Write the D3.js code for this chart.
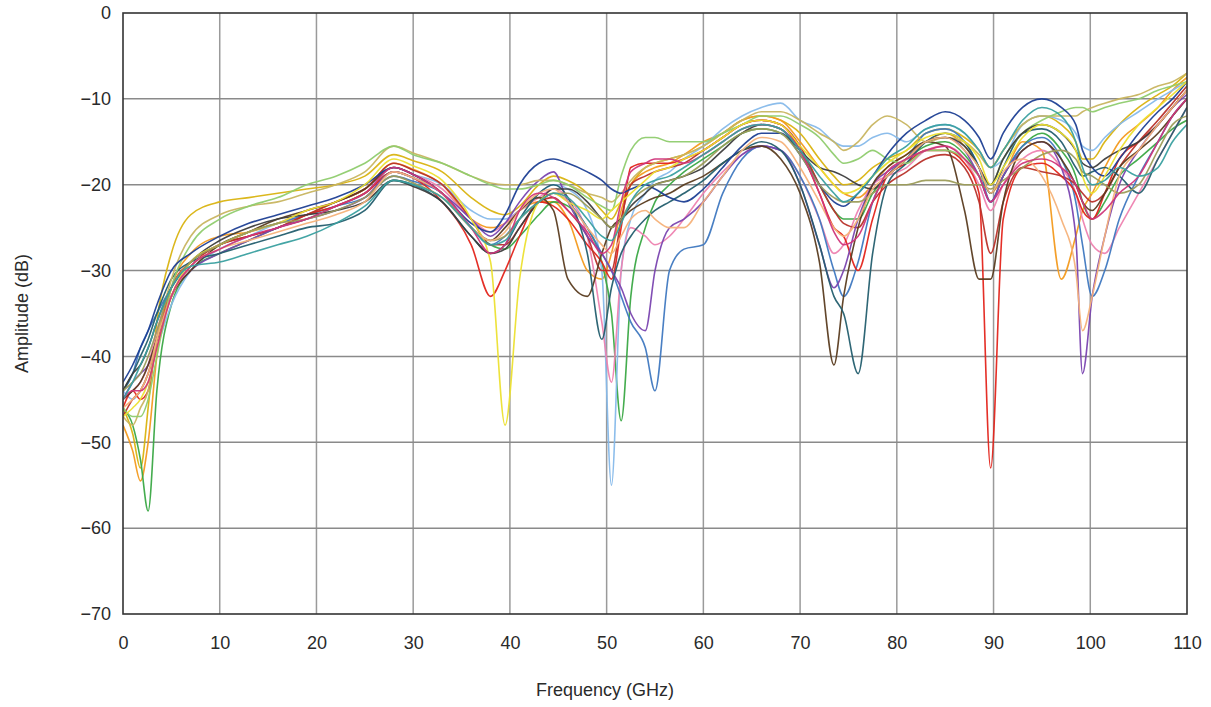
<!DOCTYPE html>
<html>
<head>
<meta charset="utf-8">
<script src="https://cdn.jsdelivr.net/npm/d3@7"></script>
<style>
  html, body { margin: 0; padding: 0; background: #fff; }
  svg { display: block; }
  text { font-family: "Liberation Sans", Arial, sans-serif; fill: #2a2a2a; }
</style>
</head>
<body>
<svg id="chart" width="1211" height="707"></svg>
<script>
// Frequency grid (GHz) shared by all traces
const freqs = [0,1,1.8,2.6,3.5,5,7,10,13,16,19,22,25,28,30,33,36,38,39.5,41,43,44.5,46,48,49.5,50.5,51.5,52.5,54,55,56.5,58,60,62,64,66,68,70,72,73.5,74.5,76,77.5,79,81,83,85,87,88.5,89.7,91,93,95,97,98.5,99.2,100.2,101.5,103,105,107,108.5,110];

const xTicks = [0,10,20,30,40,50,60,70,80,90,100,110];
const yTicks = [0,-10,-20,-30,-40,-50,-60,-70];

const seriesNames = ["S1","S2","S3","S4","S5","S6","S7","S8","S9","S10","S11","S12","S13","S14","S15","S16","S17","S18","S19","S20"];
const seriesColors = ["#d9b310","#f39a1e","#3aa845","#86b9ea","#ee82b0","#3f78c0","#e3241b","#b8322a","#7a44b0","#5a3c20","#235e6e","#c8b560","#8fcc6e","#1d3f94","#3d3d3d","#ece030","#9c9c5a","#f5b27a","#d0357a","#3aa0a0"];

const s1 = [-46,-49,-53,-46,-36,-28,-23.5,-22, -21.5,-21,-20.5,-20,-19,-16.5,-17.2, -18.5,-21.5,-23,-23.5,-22.5,-20,-19,-19.5,-21, -23,-24,-22,-20,-18,-17.5,-17,-16.5,-15.5, -14,-12.5,-12,-12.5,-14,-17,-19,-20,-19.5,-18, -17,-16,-14,-13.5,-14.5,-16,-18,-16,-13,-12, -13,-15,-17,-17,-15,-13,-11,-9.5,-8.5,-7];
const s2 = [-48,-51,-54.5,-50,-40,-32,-28,-26, -25.5,-24.5,-23.5,-22,-20.5,-17.5,-18.2, -20,-24,-25,-24.5,-23,-22,-22,-24,-30, -31,-28,-23,-20,-18.5,-18,-17.5,-16.5,-15, -14,-12.5,-12,-12.5,-15,-18,-20,-21,-21.5,-20, -18,-16.5,-15,-14,-15.5,-18,-21,-19,-15,-16, -31,-26,-23,-21,-18,-15,-13,-11,-9,-7.5];
const s3 = [-46,-48,-52,-58,-44,-34,-30,-28, -26.5,-25,-24,-22.5,-21,-18.5,-19.2, -21,-25,-27,-27.5,-26,-23.5,-22,-22.5,-25, -29,-35,-47.5,-33,-25,-22,-20,-18.5,-17, -15.5,-14,-13.5,-14,-16,-20,-23,-24,-24,-21, -19,-17,-15.5,-15,-16.5,-19,-22,-19,-15.5,-14, -16,-19,-22,-24,-22,-19,-17,-15,-13.5,-12.5];
const s4 = [-44,-45,-44,-42,-39,-34,-30,-27.5, -26,-24.5,-23.5,-22.5,-21,-18,-18.8, -20,-23,-24,-24,-23,-21,-20,-20.5,-23, -30,-55,-30,-24,-21,-19.5,-18.5,-17,-15.5, -13.5,-12,-11,-10.5,-12.5,-13.5,-15,-15.5,-15.5,-14.5, -14,-15,-13.5,-13,-14,-16,-18,-17,-13,-12, -12.5,-14,-15.5,-16,-14.5,-13,-11.5,-10,-9,-8];
const s5 = [-45,-44,-43,-41,-37,-32,-29,-27, -25.5,-24.5,-23,-22,-20.5,-18,-18.8, -20.5,-24,-25.5,-24.5,-23,-21.5,-20.5,-21.5,-26, -36,-43,-30,-25,-26,-27,-26,-24,-21, -18.5,-16.5,-15.5,-16,-19,-24,-28,-27,-23,-20, -19,-18,-16,-15.5,-17,-20,-23,-20,-17,-16, -18,-21,-24,-27,-28,-25,-21,-17,-14,-11];
const s6 = [-44,-42,-39,-37,-35,-32,-29,-27, -25.5,-24.5,-23.5,-22.5,-21.5,-19,-19.6, -21,-25,-27,-26,-24,-22,-21,-22,-25, -28,-30,-33,-36,-39,-44,-30,-27.5,-27, -21,-17,-15.5,-16,-19,-24,-30,-33,-29,-22, -19,-17,-14,-13.5,-15,-18,-22,-19,-15.5,-14.5, -17,-22,-27,-33,-30,-24,-19,-15,-12,-10];
const s7 = [-46,-44,-45,-44,-38,-32,-29,-27, -26,-25,-23.5,-22.5,-21,-18.5,-19.2, -22,-27,-33,-30,-26,-22,-22.5,-24,-27, -29,-31,-25,-18,-17.5,-17.5,-17.5,-17,-16, -14.5,-13,-12.5,-13,-16,-21,-25,-26,-30,-24, -19,-17.5,-16,-16,-17.5,-21,-53,-24,-18,-17.5, -19,-21,-23,-24,-21,-17,-15,-13,-11,-9];
const s8 = [-47,-45,-44,-42,-38,-33,-29.5,-27, -26,-25,-23.5,-22,-20.5,-17.5,-18.3, -20,-24,-27,-27,-25,-22,-21.5,-23,-26, -30,-30,-24,-20,-19,-18.5,-18,-17.5,-16, -14.5,-13,-12.5,-13,-15.5,-20,-23,-24.5,-25,-22, -20,-18.5,-17,-16.5,-18,-22,-28,-22,-18,-18.5, -19,-20,-21,-22,-21,-18,-15,-12.5,-10.5,-8.5];
const s9 = [-45,-43,-42,-41,-38,-33,-30,-28, -26.5,-25,-24,-23,-21.5,-18.5,-19.2, -21,-24,-26,-24.5,-22,-19.5,-18.5,-22,-26, -28,-30,-32,-35,-37,-30,-25,-24,-22, -19,-16.5,-15.5,-16,-20,-27,-32,-30,-24,-20, -18.5,-17,-15,-14.5,-16,-19,-22,-19,-16,-15, -18,-26,-42,-33,-26,-20,-16,-13,-11,-9.5];
const s10 = [-45,-44,-43,-41,-38,-33,-30,-27, -25.5,-24,-23,-22,-20.5,-18,-18.8, -21,-25,-26.5,-25,-23,-21.5,-23,-31,-33, -28,-25,-24,-23,-22,-21.5,-21,-20,-19, -17.5,-16,-15.5,-17,-21,-29,-41,-33,-25,-20, -18,-16.5,-15,-15.5,-23,-31,-31,-22,-16,-15, -17,-20,-22,-23,-21,-18,-16,-14,-12,-10];
const s11 = [-44,-42,-40,-38,-35,-31,-29,-28, -27,-26,-25,-24.5,-23,-19.5,-20, -22,-26,-28,-27,-24,-21,-20,-21.5,-28, -38,-32,-28,-26,-24,-23,-22,-21,-19.5, -17.5,-16,-15,-16,-20,-27,-33,-35,-42,-28, -20,-17.5,-15,-14,-15,-18,-21,-18,-14,-13.5, -15,-18,-19,-18.5,-18,-19,-21,-17,-14,-11];
const s12 = [-47,-48,-46,-44,-38,-31,-26,-23.5, -22.5,-22,-21,-20,-18.5,-15.5,-16.3, -17.5,-19,-19.8,-20,-20,-19.5,-19.5,-20,-21, -21.5,-22,-21,-19.5,-18,-17.5,-17,-16.5,-15.5, -14,-12.5,-11.5,-11.5,-12.5,-14,-15,-16,-15,-13, -12,-13,-15,-14.5,-15,-16.5,-18,-16,-13,-12, -12,-12,-11.5,-11,-10.5,-10,-9.5,-8.5,-8,-7];
const s13 = [-46,-47,-47,-45,-40,-32,-27,-24, -22.5,-21.5,-20,-19,-17.5,-15.5,-16.5, -17.5,-19,-20,-20.5,-20.5,-20,-19.5,-20,-21.5, -22.5,-23,-19,-16,-14.5,-14.5,-15,-15,-15, -14,-13,-12,-12,-13,-14.5,-16.5,-17.5,-17,-16, -17,-17.5,-16,-16,-17,-19,-20,-17,-14,-12.5, -11.5,-11,-11,-11.5,-11,-10.5,-10,-9,-8.5,-8];
const s14 = [-43,-41,-39,-37,-34,-30,-28,-26, -24.5,-23.5,-22.5,-21.5,-20,-18,-18.8, -21,-24.5,-25.5,-23.5,-20,-17.5,-17,-17.5,-18.5, -19.5,-20.5,-21,-20.5,-20,-20.5,-21.5,-22,-20.5, -18,-15.5,-14,-14,-16.5,-20,-22,-22.5,-21,-19, -16.5,-14,-12.5,-11.5,-12.5,-14.5,-17,-14,-11,-10, -11,-13,-16,-18,-19,-17,-14,-11.5,-10,-8];
const s15 = [-44,-42,-41,-39,-36,-32,-29,-26.5, -25,-24,-23.5,-23,-22,-19.5,-20.2, -22,-26,-28,-27.5,-25,-22,-20.5,-20.5,-22, -24,-25,-24,-22.5,-21,-20,-19.5,-19,-18, -16,-14,-13,-13.5,-16,-18,-18.5,-19,-20,-20.5, -19,-17,-15,-14.5,-15.5,-18,-20,-17,-14,-13, -14,-16,-17.5,-18,-17,-16,-15,-13,-11,-9];
const s16 = [-47,-46,-45,-43,-39,-33,-29,-27, -25.5,-24.5,-23,-22,-20,-17,-17.8, -19.5,-24,-29,-48,-31,-22,-21,-22,-23, -24,-23,-22,-21,-19.5,-18.5,-18,-17,-16, -14.5,-13,-12.5,-13,-15.5,-18,-20,-21,-20.5,-19, -17.5,-16,-14.5,-14,-15,-17,-20,-18,-14.5,-13, -14,-16,-19,-21,-19,-16,-13,-11,-9.5,-8];
const s17 = [-44,-43,-42,-40,-37,-32,-29,-27, -25.5,-24.5,-24,-23,-21.5,-19,-19.8, -21.5,-25,-26.5,-26,-24,-22,-21,-21,-22.5, -24,-25,-24,-22,-20.5,-20,-19.5,-19,-17.5, -15.5,-14,-13.5,-14,-16.5,-20,-21.5,-22,-22,-21, -20,-20,-19.5,-19.5,-20,-20,-20.5,-19.5,-18,-16.5, -16,-17,-18.5,-19,-20,-21,-20,-16,-13,-12];
const s18 = [-46,-45,-44,-42,-38,-33,-29.5,-27.5, -26.5,-25.5,-24.5,-23.5,-22,-18.5,-19.2, -21,-25,-26.5,-25.5,-23,-21,-20.5,-22,-25, -27,-28,-26,-24,-23,-24,-25,-25,-22, -19,-16,-14.5,-15,-18,-22,-25,-26,-24,-20.5, -19,-17,-15,-14.5,-16,-18,-21,-18.5,-17,-19, -24,-30,-37,-33,-26,-19,-16,-13,-11,-9];
const s19 = [-45,-44,-44,-43,-39,-33,-29.5,-27.5, -26,-25,-24,-22.5,-21,-18,-18.8, -21,-25,-28,-27,-23,-21,-21.5,-23,-25.5, -28,-27,-22,-18.5,-17.5,-17,-17,-17.5,-16.5, -15,-13.5,-13,-13.5,-16,-21,-25.5,-27,-26,-22, -18.5,-17,-16,-15.5,-17,-19,-22,-20,-17.5,-17, -18,-20,-22,-24,-23,-21,-19,-15,-12,-10];
const s20 = [-45,-43,-41,-39,-36,-32,-29.5,-29, -28,-27,-26,-24.5,-22.5,-19.5,-20, -21.5,-25,-27,-26.5,-24,-22,-21,-21.5,-24, -26,-26.5,-24.5,-22,-20,-19.5,-19,-18,-16.5, -15,-13.5,-13,-13.5,-16,-19,-21,-22,-21,-19, -17,-15.5,-13.5,-13,-14,-16,-18,-16,-12.5,-11, -12,-15,-18,-20,-19.5,-18,-19,-18,-15,-13];

const seriesValues = [s1,s2,s3,s4,s5,s6,s7,s8,s9,s10,s11,s12,s13,s14,s15,s16,s17,s18,s19,s20];

const svg = d3.select("#chart");
const margin = {left: 123, right: 24, top: 13, bottom: 93};
const W = 1211, H = 707;
const x = d3.scaleLinear().domain([0, 110]).range([margin.left, W - margin.right]);
const y = d3.scaleLinear().domain([-70, 0]).range([H - margin.bottom, margin.top]);

// grid
const grid = svg.append("g");
grid.selectAll("line.v").data(xTicks.slice(1, -1)).join("line")
  .attr("x1", d => x(d)).attr("x2", d => x(d))
  .attr("y1", y(0)).attr("y2", y(-70))
  .attr("stroke", "#9a9a9a").attr("stroke-width", 1.5);
grid.selectAll("line.h").data(yTicks.slice(1, -1)).join("line")
  .attr("y1", d => y(d)).attr("y2", d => y(d))
  .attr("x1", x(0)).attr("x2", x(110))
  .attr("stroke", "#8a8a8a").attr("stroke-width", 1.5);

// traces
const line = d3.line()
  .x((d, i) => x(freqs[i]))
  .y(d => y(d))
  .curve(d3.curveMonotoneX);

svg.append("clipPath").attr("id", "plotclip").append("rect")
  .attr("x", x(0)).attr("y", y(0)).attr("width", x(110) - x(0)).attr("height", y(-70) - y(0));

svg.append("g").attr("clip-path", "url(#plotclip)")
  .selectAll("path").data(seriesValues).join("path")
  .attr("d", d => line(d))
  .attr("fill", "none")
  .attr("stroke", (d, i) => seriesColors[i])
  .attr("stroke-width", 1.6)
  .attr("stroke-linejoin", "round")
  .attr("opacity", 0.95);

// frame
svg.append("rect")
  .attr("x", x(0)).attr("y", y(0))
  .attr("width", x(110) - x(0)).attr("height", y(-70) - y(0))
  .attr("fill", "none").attr("stroke", "#333").attr("stroke-width", 1.6);

// axes
const xAxis = svg.append("g").attr("transform", `translate(0,${y(-70)})`)
  .call(d3.axisBottom(x).tickValues(xTicks).tickSize(0).tickPadding(22));
const yAxis = svg.append("g").attr("transform", `translate(${x(0)},0)`)
  .call(d3.axisLeft(y).tickValues(yTicks).tickSize(0).tickPadding(12));
[xAxis, yAxis].forEach(a => {
  a.select(".domain").remove();
  a.selectAll("text").attr("font-size", 18).attr("fill", "#2a2a2a")
    .attr("font-family", "'Liberation Sans', Arial, sans-serif");
});

svg.append("text")
  .attr("x", 605).attr("y", 696)
  .attr("text-anchor", "middle").attr("font-size", 18)
  .text("Frequency (GHz)");

svg.append("text")
  .attr("transform", `translate(28,${(y(0) + y(-70)) / 2}) rotate(-90)`)
  .attr("text-anchor", "middle").attr("font-size", 18)
  .text("Amplitude (dB)");
</script>
</body>
</html>
